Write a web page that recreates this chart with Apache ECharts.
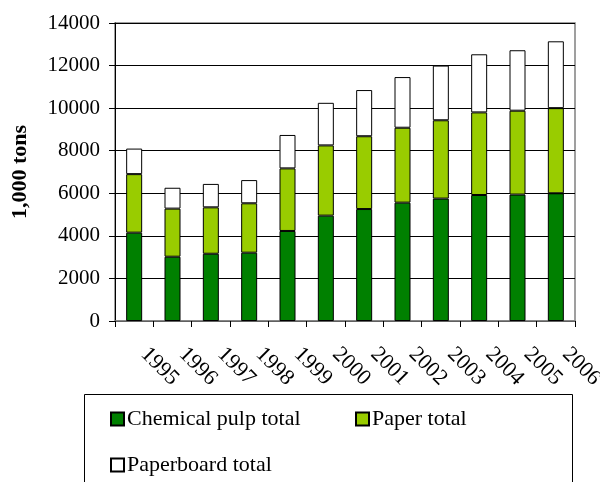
<!DOCTYPE html>
<html>
<head>
<meta charset="utf-8">
<script src="https://cdn.jsdelivr.net/npm/echarts@6/dist/echarts.min.js"></script>
<style>html,body{margin:0;padding:0;background:#fff;}#c{width:600px;height:482px;}</style>
</head>
<body>
<div id="c"></div>
<script>
var years = ['1995','1996','1997','1998','1999','2000','2001','2002','2003','2004','2005','2006'];
var chemicalPulp = [4150,3020,3160,3210,4230,4950,5260,5560,5750,5920,5940,6000];
var paper = [2750,2260,2180,2320,2940,3300,3420,3520,3680,3880,3940,4000];
var paperboard = [1200,980,1100,1090,1570,2000,2170,2380,2570,2730,2840,3140];
var seriesNames = ['Chemical pulp total','Paper total','Paperboard total'];
var seriesColors = ['#008000','#99CC00','#FFFFFF'];

var FONT = 'Liberation Serif';
var chart = echarts.init(document.getElementById('c'), null, {renderer:'canvas'});
function mk(i, data){
  return {
    name: seriesNames[i], type:'bar', stack:'total', data:data, barWidth:16,
    itemStyle:{color:seriesColors[i], borderColor:'#000', borderWidth:1},
    emphasis:{disabled:true}
  };
}
var legendBase = {
  icon:'rect', itemWidth:13, itemHeight:13, padding:0, itemGap:0,
  textStyle:{fontFamily:FONT, fontSize:22, color:'#000', padding:[0,0,0,-2]}
};
chart.setOption({
  animation:false,
  backgroundColor:'#fff',
  grid:{left:115, right:25, top:23, bottom:161, show:true, borderColor:'#808080', borderWidth:1.5, containLabel:false, outerBoundsMode:'none'},
  xAxis:{
    type:'category', data:years,
    axisLine:{lineStyle:{color:'#808080', width:1.5}},
    axisTick:{show:true, length:6, lineStyle:{color:'#000'}},
    axisLabel:{rotate:-45, margin:20, padding:[0,0,0,14], fontFamily:FONT, fontSize:22, color:'#000', interval:0}
  },
  yAxis:{
    type:'value', min:0, max:14000, interval:2000,
    name:'1,000 tons', nameLocation:'middle', nameGap:84, nameRotate:90,
    nameTextStyle:{fontFamily:FONT, fontSize:22, fontWeight:'bold', color:'#000'},
    axisLine:{show:true, lineStyle:{color:'#000', width:1}},
    axisTick:{show:true, length:6, lineStyle:{color:'#000'}},
    axisLabel:{margin:15, fontFamily:FONT, fontSize:21, color:'#000', formatter:function(v){return String(v);}},
    splitLine:{show:true, lineStyle:{color:'#000', width:1}}
  },
  legend:[
    Object.assign({}, legendBase, {data:[seriesNames[0]], left:110, top:408}),
    Object.assign({}, legendBase, {data:[seriesNames[1]], left:355, top:408}),
    Object.assign({}, legendBase, {data:[seriesNames[2]], left:110, top:454})
  ],
  graphic:[{
    type:'rect', shape:{x:84.5, y:394.5, width:488, height:120},
    style:{fill:'none', stroke:'#000', lineWidth:1}, silent:true, z:-1
  }],
  series:[mk(0, chemicalPulp), mk(1, paper), mk(2, paperboard)]
});
</script>
</body>
</html>
